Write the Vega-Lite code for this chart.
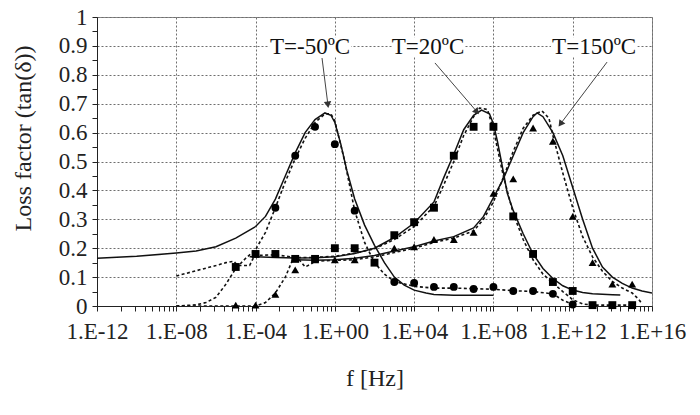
{
  "$schema": "https://vega.github.io/schema/vega-lite/v6.json",
  "width": 555,
  "height": 289,
  "autosize": {"type": "none"},
  "padding": {"left": 97, "top": 17, "right": 48, "bottom": 109},
  "background": "white",
  "config": {
    "font": "Liberation Serif",
    "view": {"stroke": "#8a8a8a", "strokeWidth": 1},
    "axis": {"domainColor": "#222", "tickColor": "#222", "labelColor": "#222", "titleColor": "#222", "titleFontWeight": "normal"}
  },
  "datasets": {
    "curves": [
      {"T": "T=-50ºC", "s": "m1", "f": 1e-12, "y": 0.165},
      {"T": "T=-50ºC", "s": "m1", "f": 1e-10, "y": 0.172},
      {"T": "T=-50ºC", "s": "m1", "f": 1e-8, "y": 0.183},
      {"T": "T=-50ºC", "s": "m1", "f": 1e-7, "y": 0.19},
      {"T": "T=-50ºC", "s": "m1", "f": 1e-6, "y": 0.205},
      {"T": "T=-50ºC", "s": "m1", "f": 1e-5, "y": 0.235},
      {"T": "T=-50ºC", "s": "m1", "f": 1e-4, "y": 0.275},
      {"T": "T=-50ºC", "s": "m1", "f": 3.162e-4, "y": 0.31},
      {"T": "T=-50ºC", "s": "m1", "f": 1e-3, "y": 0.37},
      {"T": "T=-50ºC", "s": "m1", "f": 3.162e-3, "y": 0.45},
      {"T": "T=-50ºC", "s": "m1", "f": 1e-2, "y": 0.53},
      {"T": "T=-50ºC", "s": "m1", "f": 3.162e-2, "y": 0.6},
      {"T": "T=-50ºC", "s": "m1", "f": 0.1, "y": 0.645},
      {"T": "T=-50ºC", "s": "m1", "f": 0.3162, "y": 0.668},
      {"T": "T=-50ºC", "s": "m1", "f": 0.631, "y": 0.66},
      {"T": "T=-50ºC", "s": "m1", "f": 1, "y": 0.635},
      {"T": "T=-50ºC", "s": "m1", "f": 1.995, "y": 0.56},
      {"T": "T=-50ºC", "s": "m1", "f": 3.981, "y": 0.47},
      {"T": "T=-50ºC", "s": "m1", "f": 10, "y": 0.37},
      {"T": "T=-50ºC", "s": "m1", "f": 31.62, "y": 0.28},
      {"T": "T=-50ºC", "s": "m1", "f": 100, "y": 0.21},
      {"T": "T=-50ºC", "s": "m1", "f": 316.2, "y": 0.15},
      {"T": "T=-50ºC", "s": "m1", "f": 1000, "y": 0.1},
      {"T": "T=-50ºC", "s": "m1", "f": 3162, "y": 0.072},
      {"T": "T=-50ºC", "s": "m1", "f": 1e4, "y": 0.055},
      {"T": "T=-50ºC", "s": "m1", "f": 3.981e4, "y": 0.045},
      {"T": "T=-50ºC", "s": "m1", "f": 1e5, "y": 0.04},
      {"T": "T=-50ºC", "s": "m1", "f": 1e6, "y": 0.037},
      {"T": "T=-50ºC", "s": "m1", "f": 1e8, "y": 0.037},

      {"T": "T=-50ºC", "s": "m2", "f": 1e-8, "y": 0.0},
      {"T": "T=-50ºC", "s": "m2", "f": 1e-7, "y": 0.004},
      {"T": "T=-50ºC", "s": "m2", "f": 3.162e-7, "y": 0.012},
      {"T": "T=-50ºC", "s": "m2", "f": 1e-6, "y": 0.03},
      {"T": "T=-50ºC", "s": "m2", "f": 3.162e-6, "y": 0.075},
      {"T": "T=-50ºC", "s": "m2", "f": 1e-5, "y": 0.13},
      {"T": "T=-50ºC", "s": "m2", "f": 3.162e-5, "y": 0.165},
      {"T": "T=-50ºC", "s": "m2", "f": 1e-4, "y": 0.195},
      {"T": "T=-50ºC", "s": "m2", "f": 3.162e-4, "y": 0.255},
      {"T": "T=-50ºC", "s": "m2", "f": 1e-3, "y": 0.34},
      {"T": "T=-50ºC", "s": "m2", "f": 3.162e-3, "y": 0.43},
      {"T": "T=-50ºC", "s": "m2", "f": 1e-2, "y": 0.51},
      {"T": "T=-50ºC", "s": "m2", "f": 3.162e-2, "y": 0.58},
      {"T": "T=-50ºC", "s": "m2", "f": 0.1, "y": 0.635},
      {"T": "T=-50ºC", "s": "m2", "f": 0.3162, "y": 0.665},
      {"T": "T=-50ºC", "s": "m2", "f": 0.631, "y": 0.665},
      {"T": "T=-50ºC", "s": "m2", "f": 1, "y": 0.64},
      {"T": "T=-50ºC", "s": "m2", "f": 3.162, "y": 0.5},
      {"T": "T=-50ºC", "s": "m2", "f": 10, "y": 0.33},
      {"T": "T=-50ºC", "s": "m2", "f": 31.62, "y": 0.22},
      {"T": "T=-50ºC", "s": "m2", "f": 100, "y": 0.15},
      {"T": "T=-50ºC", "s": "m2", "f": 316.2, "y": 0.11},
      {"T": "T=-50ºC", "s": "m2", "f": 1000, "y": 0.085},
      {"T": "T=-50ºC", "s": "m2", "f": 1e4, "y": 0.068},
      {"T": "T=-50ºC", "s": "m2", "f": 1e5, "y": 0.062},
      {"T": "T=-50ºC", "s": "m2", "f": 1e6, "y": 0.062},
      {"T": "T=-50ºC", "s": "m2", "f": 1e7, "y": 0.06},
      {"T": "T=-50ºC", "s": "m2", "f": 1e8, "y": 0.058},
      {"T": "T=-50ºC", "s": "m2", "f": 1e9, "y": 0.053},
      {"T": "T=-50ºC", "s": "m2", "f": 1e10, "y": 0.05},
      {"T": "T=-50ºC", "s": "m2", "f": 1e11, "y": 0.042},
      {"T": "T=-50ºC", "s": "m2", "f": 3.162e11, "y": 0.02},
      {"T": "T=-50ºC", "s": "m2", "f": 1e12, "y": 0.005},

      {"T": "T=-50ºC", "s": "exp", "f": 1e-3, "y": 0.34},
      {"T": "T=-50ºC", "s": "exp", "f": 1e-2, "y": 0.52},
      {"T": "T=-50ºC", "s": "exp", "f": 0.1, "y": 0.62},
      {"T": "T=-50ºC", "s": "exp", "f": 1, "y": 0.56},
      {"T": "T=-50ºC", "s": "exp", "f": 10, "y": 0.33},
      {"T": "T=-50ºC", "s": "exp", "f": 1e3, "y": 0.083},
      {"T": "T=-50ºC", "s": "exp", "f": 1e4, "y": 0.08},
      {"T": "T=-50ºC", "s": "exp", "f": 1e5, "y": 0.066},
      {"T": "T=-50ºC", "s": "exp", "f": 1e6, "y": 0.066},
      {"T": "T=-50ºC", "s": "exp", "f": 1e7, "y": 0.059},
      {"T": "T=-50ºC", "s": "exp", "f": 1e8, "y": 0.066},
      {"T": "T=-50ºC", "s": "exp", "f": 1e9, "y": 0.052},
      {"T": "T=-50ºC", "s": "exp", "f": 1e10, "y": 0.052},
      {"T": "T=-50ºC", "s": "exp", "f": 1e11, "y": 0.042},
      {"T": "T=-50ºC", "s": "exp", "f": 1e12, "y": 0.005},

      {"T": "T=20ºC", "s": "m1", "f": 5.012e-5, "y": 0.17},
      {"T": "T=20ºC", "s": "m1", "f": 1e-4, "y": 0.17},
      {"T": "T=20ºC", "s": "m1", "f": 1e-3, "y": 0.168},
      {"T": "T=20ºC", "s": "m1", "f": 1e-2, "y": 0.166},
      {"T": "T=20ºC", "s": "m1", "f": 0.1, "y": 0.167},
      {"T": "T=20ºC", "s": "m1", "f": 1, "y": 0.17},
      {"T": "T=20ºC", "s": "m1", "f": 10, "y": 0.182},
      {"T": "T=20ºC", "s": "m1", "f": 100, "y": 0.2},
      {"T": "T=20ºC", "s": "m1", "f": 1e3, "y": 0.237},
      {"T": "T=20ºC", "s": "m1", "f": 1e4, "y": 0.287},
      {"T": "T=20ºC", "s": "m1", "f": 1e5, "y": 0.36},
      {"T": "T=20ºC", "s": "m1", "f": 3.162e5, "y": 0.445},
      {"T": "T=20ºC", "s": "m1", "f": 1e6, "y": 0.525},
      {"T": "T=20ºC", "s": "m1", "f": 3.162e6, "y": 0.61},
      {"T": "T=20ºC", "s": "m1", "f": 1e7, "y": 0.66},
      {"T": "T=20ºC", "s": "m1", "f": 2.512e7, "y": 0.678},
      {"T": "T=20ºC", "s": "m1", "f": 6.31e7, "y": 0.665},
      {"T": "T=20ºC", "s": "m1", "f": 1e8, "y": 0.63},
      {"T": "T=20ºC", "s": "m1", "f": 1.585e8, "y": 0.57},
      {"T": "T=20ºC", "s": "m1", "f": 2.512e8, "y": 0.5},
      {"T": "T=20ºC", "s": "m1", "f": 5.012e8, "y": 0.39},
      {"T": "T=20ºC", "s": "m1", "f": 1e9, "y": 0.33},
      {"T": "T=20ºC", "s": "m1", "f": 3.162e9, "y": 0.25},
      {"T": "T=20ºC", "s": "m1", "f": 1e10, "y": 0.18},
      {"T": "T=20ºC", "s": "m1", "f": 3.162e10, "y": 0.13},
      {"T": "T=20ºC", "s": "m1", "f": 1e11, "y": 0.095},
      {"T": "T=20ºC", "s": "m1", "f": 3.162e11, "y": 0.07},
      {"T": "T=20ºC", "s": "m1", "f": 1e12, "y": 0.055},
      {"T": "T=20ºC", "s": "m1", "f": 3.162e12, "y": 0.047},
      {"T": "T=20ºC", "s": "m1", "f": 1e13, "y": 0.042},
      {"T": "T=20ºC", "s": "m1", "f": 1e14, "y": 0.039},
      {"T": "T=20ºC", "s": "m1", "f": 2.512e14, "y": 0.038},

      {"T": "T=20ºC", "s": "m2", "f": 1e-8, "y": 0.104},
      {"T": "T=20ºC", "s": "m2", "f": 1e-7, "y": 0.122},
      {"T": "T=20ºC", "s": "m2", "f": 1e-6, "y": 0.14},
      {"T": "T=20ºC", "s": "m2", "f": 3.162e-6, "y": 0.15},
      {"T": "T=20ºC", "s": "m2", "f": 7.943e-6, "y": 0.155},
      {"T": "T=20ºC", "s": "m2", "f": 1.259e-5, "y": 0.14},
      {"T": "T=20ºC", "s": "m2", "f": 5.012e-5, "y": 0.14},
      {"T": "T=20ºC", "s": "m2", "f": 8.913e-5, "y": 0.175},
      {"T": "T=20ºC", "s": "m2", "f": 1e-3, "y": 0.177},
      {"T": "T=20ºC", "s": "m2", "f": 1e-2, "y": 0.168},
      {"T": "T=20ºC", "s": "m2", "f": 0.1, "y": 0.168},
      {"T": "T=20ºC", "s": "m2", "f": 1, "y": 0.172},
      {"T": "T=20ºC", "s": "m2", "f": 10, "y": 0.183},
      {"T": "T=20ºC", "s": "m2", "f": 100, "y": 0.198},
      {"T": "T=20ºC", "s": "m2", "f": 1e3, "y": 0.23},
      {"T": "T=20ºC", "s": "m2", "f": 1e4, "y": 0.275},
      {"T": "T=20ºC", "s": "m2", "f": 1e5, "y": 0.345},
      {"T": "T=20ºC", "s": "m2", "f": 3.162e5, "y": 0.42},
      {"T": "T=20ºC", "s": "m2", "f": 1e6, "y": 0.5},
      {"T": "T=20ºC", "s": "m2", "f": 3.162e6, "y": 0.59},
      {"T": "T=20ºC", "s": "m2", "f": 1e7, "y": 0.655},
      {"T": "T=20ºC", "s": "m2", "f": 1.995e7, "y": 0.685},
      {"T": "T=20ºC", "s": "m2", "f": 5.012e7, "y": 0.68},
      {"T": "T=20ºC", "s": "m2", "f": 1e8, "y": 0.61},
      {"T": "T=20ºC", "s": "m2", "f": 3.162e8, "y": 0.45},
      {"T": "T=20ºC", "s": "m2", "f": 1e9, "y": 0.32},
      {"T": "T=20ºC", "s": "m2", "f": 3.162e9, "y": 0.23},
      {"T": "T=20ºC", "s": "m2", "f": 1e10, "y": 0.16},
      {"T": "T=20ºC", "s": "m2", "f": 3.162e10, "y": 0.11},
      {"T": "T=20ºC", "s": "m2", "f": 1e11, "y": 0.08},
      {"T": "T=20ºC", "s": "m2", "f": 3.162e11, "y": 0.05},
      {"T": "T=20ºC", "s": "m2", "f": 1e12, "y": 0.022},
      {"T": "T=20ºC", "s": "m2", "f": 3.162e12, "y": 0.007},
      {"T": "T=20ºC", "s": "m2", "f": 1e13, "y": 0.003},
      {"T": "T=20ºC", "s": "m2", "f": 1e14, "y": 0.003},
      {"T": "T=20ºC", "s": "m2", "f": 1e15, "y": 0.003},

      {"T": "T=20ºC", "s": "exp", "f": 1e-5, "y": 0.135},
      {"T": "T=20ºC", "s": "exp", "f": 1e-4, "y": 0.18},
      {"T": "T=20ºC", "s": "exp", "f": 1e-3, "y": 0.18},
      {"T": "T=20ºC", "s": "exp", "f": 1e-2, "y": 0.163},
      {"T": "T=20ºC", "s": "exp", "f": 0.1, "y": 0.163},
      {"T": "T=20ºC", "s": "exp", "f": 1, "y": 0.2},
      {"T": "T=20ºC", "s": "exp", "f": 10, "y": 0.2},
      {"T": "T=20ºC", "s": "exp", "f": 100, "y": 0.15},
      {"T": "T=20ºC", "s": "exp", "f": 1e3, "y": 0.245},
      {"T": "T=20ºC", "s": "exp", "f": 1e4, "y": 0.29},
      {"T": "T=20ºC", "s": "exp", "f": 1e5, "y": 0.34},
      {"T": "T=20ºC", "s": "exp", "f": 1e6, "y": 0.52},
      {"T": "T=20ºC", "s": "exp", "f": 1e7, "y": 0.62},
      {"T": "T=20ºC", "s": "exp", "f": 1e8, "y": 0.62},
      {"T": "T=20ºC", "s": "exp", "f": 1e9, "y": 0.31},
      {"T": "T=20ºC", "s": "exp", "f": 1e10, "y": 0.18},
      {"T": "T=20ºC", "s": "exp", "f": 1e11, "y": 0.083},
      {"T": "T=20ºC", "s": "exp", "f": 1e12, "y": 0.052},
      {"T": "T=20ºC", "s": "exp", "f": 1e13, "y": 0.003},
      {"T": "T=20ºC", "s": "exp", "f": 1e14, "y": 0.003},
      {"T": "T=20ºC", "s": "exp", "f": 1e15, "y": 0.003},

      {"T": "T=150ºC", "s": "m1", "f": 1e-2, "y": 0.16},
      {"T": "T=150ºC", "s": "m1", "f": 0.1, "y": 0.158},
      {"T": "T=150ºC", "s": "m1", "f": 1, "y": 0.16},
      {"T": "T=150ºC", "s": "m1", "f": 10, "y": 0.165},
      {"T": "T=150ºC", "s": "m1", "f": 100, "y": 0.175},
      {"T": "T=150ºC", "s": "m1", "f": 1e3, "y": 0.19},
      {"T": "T=150ºC", "s": "m1", "f": 1e4, "y": 0.205},
      {"T": "T=150ºC", "s": "m1", "f": 1e5, "y": 0.225},
      {"T": "T=150ºC", "s": "m1", "f": 1e6, "y": 0.24},
      {"T": "T=150ºC", "s": "m1", "f": 1e7, "y": 0.27},
      {"T": "T=150ºC", "s": "m1", "f": 3.162e7, "y": 0.31},
      {"T": "T=150ºC", "s": "m1", "f": 1e8, "y": 0.375},
      {"T": "T=150ºC", "s": "m1", "f": 3.162e8, "y": 0.44},
      {"T": "T=150ºC", "s": "m1", "f": 1e9, "y": 0.52},
      {"T": "T=150ºC", "s": "m1", "f": 3.162e9, "y": 0.6},
      {"T": "T=150ºC", "s": "m1", "f": 1e10, "y": 0.655},
      {"T": "T=150ºC", "s": "m1", "f": 1.585e10, "y": 0.668},
      {"T": "T=150ºC", "s": "m1", "f": 3.162e10, "y": 0.655},
      {"T": "T=150ºC", "s": "m1", "f": 1e11, "y": 0.6},
      {"T": "T=150ºC", "s": "m1", "f": 3.162e11, "y": 0.52},
      {"T": "T=150ºC", "s": "m1", "f": 1e12, "y": 0.41},
      {"T": "T=150ºC", "s": "m1", "f": 3.162e12, "y": 0.3},
      {"T": "T=150ºC", "s": "m1", "f": 1e13, "y": 0.2},
      {"T": "T=150ºC", "s": "m1", "f": 3.162e13, "y": 0.135},
      {"T": "T=150ºC", "s": "m1", "f": 1e14, "y": 0.1},
      {"T": "T=150ºC", "s": "m1", "f": 3.162e14, "y": 0.078},
      {"T": "T=150ºC", "s": "m1", "f": 1e15, "y": 0.062},
      {"T": "T=150ºC", "s": "m1", "f": 3.162e15, "y": 0.052},
      {"T": "T=150ºC", "s": "m1", "f": 1e16, "y": 0.045},

      {"T": "T=150ºC", "s": "m2", "f": 1e-8, "y": 0.0},
      {"T": "T=150ºC", "s": "m2", "f": 1e-6, "y": 0.0},
      {"T": "T=150ºC", "s": "m2", "f": 1e-4, "y": 0.0},
      {"T": "T=150ºC", "s": "m2", "f": 3.162e-4, "y": 0.012},
      {"T": "T=150ºC", "s": "m2", "f": 1e-3, "y": 0.045},
      {"T": "T=150ºC", "s": "m2", "f": 3.162e-3, "y": 0.1},
      {"T": "T=150ºC", "s": "m2", "f": 7.943e-3, "y": 0.165},
      {"T": "T=150ºC", "s": "m2", "f": 1.585e-2, "y": 0.16},
      {"T": "T=150ºC", "s": "m2", "f": 3.162e-2, "y": 0.135},
      {"T": "T=150ºC", "s": "m2", "f": 6.31e-2, "y": 0.145},
      {"T": "T=150ºC", "s": "m2", "f": 0.1, "y": 0.155},
      {"T": "T=150ºC", "s": "m2", "f": 1, "y": 0.158},
      {"T": "T=150ºC", "s": "m2", "f": 10, "y": 0.16},
      {"T": "T=150ºC", "s": "m2", "f": 100, "y": 0.17},
      {"T": "T=150ºC", "s": "m2", "f": 1e3, "y": 0.185},
      {"T": "T=150ºC", "s": "m2", "f": 1e4, "y": 0.2},
      {"T": "T=150ºC", "s": "m2", "f": 1e5, "y": 0.22},
      {"T": "T=150ºC", "s": "m2", "f": 1e6, "y": 0.235},
      {"T": "T=150ºC", "s": "m2", "f": 1e7, "y": 0.26},
      {"T": "T=150ºC", "s": "m2", "f": 3.162e7, "y": 0.3},
      {"T": "T=150ºC", "s": "m2", "f": 1e8, "y": 0.36},
      {"T": "T=150ºC", "s": "m2", "f": 3.162e8, "y": 0.445},
      {"T": "T=150ºC", "s": "m2", "f": 1e9, "y": 0.535},
      {"T": "T=150ºC", "s": "m2", "f": 3.162e9, "y": 0.615},
      {"T": "T=150ºC", "s": "m2", "f": 1e10, "y": 0.66},
      {"T": "T=150ºC", "s": "m2", "f": 2.818e10, "y": 0.675},
      {"T": "T=150ºC", "s": "m2", "f": 6.31e10, "y": 0.65},
      {"T": "T=150ºC", "s": "m2", "f": 1e11, "y": 0.59},
      {"T": "T=150ºC", "s": "m2", "f": 3.162e11, "y": 0.46},
      {"T": "T=150ºC", "s": "m2", "f": 1e12, "y": 0.34},
      {"T": "T=150ºC", "s": "m2", "f": 3.162e12, "y": 0.24},
      {"T": "T=150ºC", "s": "m2", "f": 1e13, "y": 0.17},
      {"T": "T=150ºC", "s": "m2", "f": 3.162e13, "y": 0.12},
      {"T": "T=150ºC", "s": "m2", "f": 1e14, "y": 0.085},
      {"T": "T=150ºC", "s": "m2", "f": 3.162e14, "y": 0.062},
      {"T": "T=150ºC", "s": "m2", "f": 1e15, "y": 0.045},
      {"T": "T=150ºC", "s": "m2", "f": 1.995e15, "y": 0.025},
      {"T": "T=150ºC", "s": "m2", "f": 3.162e15, "y": 0.008},

      {"T": "T=150ºC", "s": "exp", "f": 1e-5, "y": 0.003},
      {"T": "T=150ºC", "s": "exp", "f": 1e-4, "y": 0.003},
      {"T": "T=150ºC", "s": "exp", "f": 1e-3, "y": 0.04},
      {"T": "T=150ºC", "s": "exp", "f": 1e-2, "y": 0.125},
      {"T": "T=150ºC", "s": "exp", "f": 0.1, "y": 0.16},
      {"T": "T=150ºC", "s": "exp", "f": 1, "y": 0.16},
      {"T": "T=150ºC", "s": "exp", "f": 10, "y": 0.16},
      {"T": "T=150ºC", "s": "exp", "f": 1e3, "y": 0.2},
      {"T": "T=150ºC", "s": "exp", "f": 1e4, "y": 0.205},
      {"T": "T=150ºC", "s": "exp", "f": 1e5, "y": 0.23},
      {"T": "T=150ºC", "s": "exp", "f": 1e6, "y": 0.23},
      {"T": "T=150ºC", "s": "exp", "f": 1e7, "y": 0.255},
      {"T": "T=150ºC", "s": "exp", "f": 1e8, "y": 0.39},
      {"T": "T=150ºC", "s": "exp", "f": 1e9, "y": 0.44},
      {"T": "T=150ºC", "s": "exp", "f": 1e10, "y": 0.616},
      {"T": "T=150ºC", "s": "exp", "f": 1e11, "y": 0.57},
      {"T": "T=150ºC", "s": "exp", "f": 1e12, "y": 0.31},
      {"T": "T=150ºC", "s": "exp", "f": 1e13, "y": 0.15},
      {"T": "T=150ºC", "s": "exp", "f": 1e14, "y": 0.076},
      {"T": "T=150ºC", "s": "exp", "f": 1e15, "y": 0.076}
    ],
    "notes": [
      {"T": "T=-50ºC", "f": 5.62e-2, "y": 0.896, "fa": 4.8e-4, "fb": 6.6, "ya": 0.864, "yb": 0.93, "f1": 0.225, "y1": 0.858, "f2": 0.44, "y2": 0.7},
      {"T": "T=20ºC", "f": 5.0e4, "y": 0.896, "fa": 7.6e2, "fb": 3.3e6, "ya": 0.864, "yb": 0.93, "f1": 1.12e5, "y1": 0.841, "f2": 1.35e7, "y2": 0.675},
      {"T": "T=150ºC", "f": 1.2e13, "y": 0.896, "fa": 8.0e10, "fb": 1.8e15, "ya": 0.864, "yb": 0.93, "f1": 5.4e13, "y1": 0.844, "f2": 2.6e11, "y2": 0.633}
    ]
  },
  "encoding": {
    "x": {
      "field": "f", "type": "quantitative",
      "scale": {"type": "log", "domain": [1e-12, 1e16], "nice": false},
      "axis": {
        "title": "f [Hz]",
        "titleFontSize": 24,
        "titleY": 60,
        "titleBaseline": "top",
        "labelFontSize": 23,
        "labelPadding": 9,
        "labelFlush": false,
        "labelOverlap": false,
        "tickSize": 5,
        "values": [1e-12, 1.6e-11, 8.1e-11, 2.56e-10, 6.25e-10, 1.296e-9, 2.401e-9, 4.096e-9, 6.561e-9,
                   1e-8, 1.6e-7, 8.1e-7, 2.56e-6, 6.25e-6, 1.296e-5, 2.401e-5, 4.096e-5, 6.561e-5,
                   1e-4, 1.6e-3, 8.1e-3, 2.56e-2, 6.25e-2, 0.1296, 0.2401, 0.4096, 0.6561,
                   1, 16, 81, 256, 625, 1296, 2401, 4096, 6561,
                   1e4, 1.6e5, 8.1e5, 2.56e6, 6.25e6, 1.296e7, 2.401e7, 4.096e7, 6.561e7,
                   1e8, 1.6e9, 8.1e9, 2.56e10, 6.25e10, 1.296e11, 2.401e11, 4.096e11, 6.561e11,
                   1e12, 1.6e13, 8.1e13, 2.56e14, 6.25e14, 1.296e15, 2.401e15, 4.096e15, 6.561e15, 1e16],
        "labelExpr": "abs(log(datum.value)/LN10/4 - round(log(datum.value)/LN10/4)) < 0.001 ? '1.E' + (round(log(datum.value)/LN10) < 0 ? '-' : '+') + (abs(round(log(datum.value)/LN10)) < 10 ? '0' : '') + abs(round(log(datum.value)/LN10)) : ''",
        "grid": true,
        "gridColor": "#6e6e6e",
        "gridDash": [2, 2],
        "gridOpacity": {"condition": {"test": "abs(log(datum.value)/LN10/4 - round(log(datum.value)/LN10/4)) < 0.001", "value": 1}, "value": 0}
      }
    },
    "y": {
      "field": "y", "type": "quantitative",
      "scale": {"domain": [0, 1], "nice": false},
      "axis": {
        "title": "Loss factor (tan(δ))",
        "titleFontSize": 24,
        "titleAngle": 270,
        "titleX": -74,
        "titleY": 121,
        "titleAlign": "center",
        "titleBaseline": "middle",
        "labelFontSize": 23,
        "labelPadding": 5,
        "tickSize": 5,
        "values": [0, 0.05, 0.1, 0.15, 0.2, 0.25, 0.3, 0.35, 0.4, 0.45, 0.5, 0.55, 0.6, 0.65, 0.7, 0.75, 0.8, 0.85, 0.9, 0.95, 1],
        "labelExpr": "round(datum.value*100) % 10 == 0 ? format(datum.value, '.1~f') : ''",
        "grid": true,
        "gridColor": "#6e6e6e",
        "gridDash": [2, 2],
        "gridOpacity": {"condition": {"test": "round(datum.value*100) % 10 == 0", "value": 1}, "value": 0}
      }
    }
  },
  "layer": [
    {
      "data": {"name": "curves"},
      "transform": [{"filter": "datum.s == 'm2'"}],
      "mark": {"type": "line", "color": "#111", "strokeWidth": 1.6, "strokeDash": [3, 2.5], "clip": true},
      "encoding": {"detail": {"field": "T"}}
    },
    {
      "data": {"name": "curves"},
      "transform": [{"filter": "datum.s == 'm1'"}],
      "mark": {"type": "line", "color": "#111", "strokeWidth": 1.5, "clip": true},
      "encoding": {"detail": {"field": "T"}}
    },
    {
      "data": {"name": "curves"},
      "transform": [{"filter": "datum.s == 'exp'"}],
      "mark": {"type": "point", "filled": true, "color": "#000", "opacity": 1, "size": 62},
      "encoding": {
        "shape": {"field": "T", "type": "nominal", "scale": {"domain": ["T=-50ºC", "T=20ºC", "T=150ºC"], "range": ["circle", "square", "triangle-up"]}, "legend": null}
      }
    },
    {
      "data": {"name": "notes"},
      "mark": {"type": "rect", "color": "white"},
      "encoding": {"x": {"field": "fa", "type": "quantitative"}, "x2": {"field": "fb"}, "y": {"field": "ya", "type": "quantitative"}, "y2": {"field": "yb"}}
    },
    {
      "data": {"name": "notes"},
      "mark": {"type": "text", "fontSize": 23, "color": "#111", "baseline": "middle", "align": "center"},
      "encoding": {"text": {"field": "T"}}
    },
    {
      "data": {"name": "notes"},
      "mark": {"type": "rule", "color": "#444", "strokeWidth": 1},
      "encoding": {"x": {"field": "f1", "type": "quantitative"}, "x2": {"field": "f2"}, "y": {"field": "y1", "type": "quantitative"}, "y2": {"field": "y2"}}
    },
    {
      "data": {"name": "notes"},
      "transform": [{"filter": "datum.T == 'T=-50ºC'"}],
      "mark": {"type": "point", "shape": "triangle", "filled": true, "color": "#333", "opacity": 1, "size": 55, "angle": 173},
      "encoding": {"x": {"field": "f2", "type": "quantitative"}, "y": {"field": "y2", "type": "quantitative"}}
    },
    {
      "data": {"name": "notes"},
      "transform": [{"filter": "datum.T == 'T=20ºC'"}],
      "mark": {"type": "point", "shape": "triangle", "filled": true, "color": "#333", "opacity": 1, "size": 55, "angle": 140},
      "encoding": {"x": {"field": "f2", "type": "quantitative"}, "y": {"field": "y2", "type": "quantitative"}}
    },
    {
      "data": {"name": "notes"},
      "transform": [{"filter": "datum.T == 'T=150ºC'"}],
      "mark": {"type": "point", "shape": "triangle", "filled": true, "color": "#333", "opacity": 1, "size": 55, "angle": 216},
      "encoding": {"x": {"field": "f2", "type": "quantitative"}, "y": {"field": "y2", "type": "quantitative"}}
    }
  ]
}
